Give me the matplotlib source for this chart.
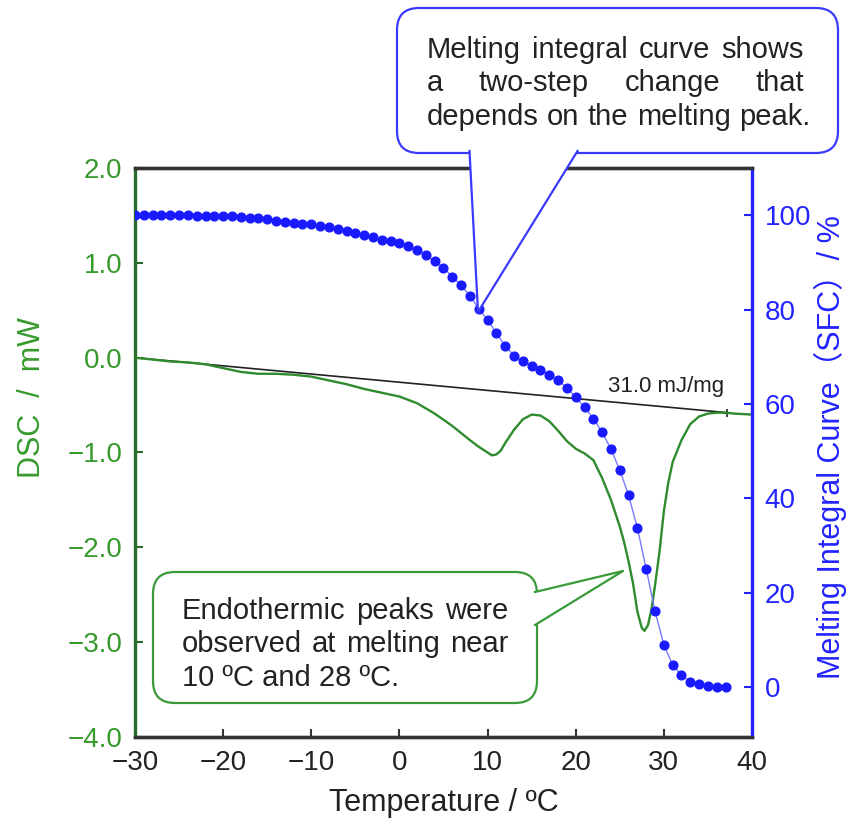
import matplotlib.pyplot as plt
import matplotlib.transforms as mtransforms
from matplotlib.patches import FancyBboxPatch, Polygon
from matplotlib.lines import Line2D

plt.rcParams['font.family'] = ['Liberation Sans', 'Noto Sans CJK JP', 'DejaVu Sans']

# Melting integral (SFC), one point per degree
temp_sfc = list(range(-30, 38))
sfc = [100.0, 100.0, 100.0, 100.0, 100.0, 100.0, 100.0, 99.9, 99.9, 99.8,
       99.8, 99.8, 99.7, 99.5, 99.3, 99.1, 98.8, 98.6, 98.4, 98.2,
       98.1, 97.8, 97.4, 97.0, 96.7, 96.3, 95.9, 95.3, 94.8, 94.5,
       94.0, 93.4, 92.6, 91.5, 90.3, 88.8, 87.0, 85.1, 82.9, 80.2,
       77.8, 75.0, 72.3, 70.2, 69.0, 68.0, 67.2, 66.2, 65.0, 63.4,
       61.4, 59.3, 56.9, 54.0, 50.4, 46.0, 40.6, 33.7, 25.0, 16.1,
       8.9, 4.7, 2.5, 1.1, 0.6, 0.2, 0.1, 0.0]

# DSC curve
temp_dsc = [-30, -28, -26, -24, -22, -20, -18, -16, -14, -12, -10, -8, -6, -4, -2,
            0, 2, 4, 6, 8, 9, 10, 10.5, 11, 11.5, 12, 13, 14, 15, 16, 17, 18, 19,
            20, 21, 22, 23, 24, 25, 25.5, 26, 26.5, 27, 27.5, 27.8, 28.2, 28.6,
            29, 29.5, 30, 30.5, 31, 32, 33, 34, 35, 36, 37, 38, 40]
dsc = [0.0, -0.02, -0.04, -0.05, -0.07, -0.11, -0.15, -0.17, -0.17, -0.18, -0.2,
       -0.24, -0.28, -0.33, -0.37, -0.41, -0.48, -0.59, -0.72, -0.87, -0.94,
       -1.0, -1.03, -1.02, -0.98, -0.9, -0.76, -0.65, -0.6, -0.61, -0.67, -0.77,
       -0.88, -0.96, -1.01, -1.08, -1.27, -1.5, -1.78, -1.95, -2.15, -2.38,
       -2.68, -2.85, -2.88, -2.82, -2.65, -2.4, -2.05, -1.62, -1.32, -1.1,
       -0.87, -0.7, -0.62, -0.59, -0.58, -0.58, -0.59, -0.6]

# integration baseline
base_t = [-30, 37.2]
base_v = [0.0, -0.58]

temp_ticks = [-30, -20, -10, 0, 10, 20, 30, 40]
temp_labels = ['−30', '−20', '−10', '0', '10', '20', '30', '40']
dsc_ticks = [-4, -3, -2, -1, 0, 1, 2]
dsc_labels = ['−4.0', '−3.0', '−2.0', '−1.0', '0.0', '1.0', '2.0']
sfc_ticks = [0, 20, 40, 60, 80, 100]

green = '#369a2c'
dark_green = '#2a6a2a'
blue = '#2323ff'

W, H = 848, 822
fig = plt.figure(figsize=(W / 100, H / 100), dpi=100)
ax = fig.add_axes([135 / W, 1 - 737 / H, (752 - 135) / W, (737 - 168) / H])
ax2 = ax.twinx()

ax.plot(base_t, base_v, color='#222222', lw=1.2, marker='+', ms=6, mew=1.2, zorder=2)
ax.plot(temp_dsc, dsc, color='#2e8b2e', lw=1.7, zorder=3)
ax2.plot(temp_sfc, sfc, color='#7a7aff', lw=1.0, marker='o', ms=6.3,
         mfc='#1a1aff', mec='#1a1aff', zorder=3)

ax.set_xlim(-30, 40)
ax.set_ylim(-4, 2)
ax2.set_ylim(-10.6, 110)

ax.set_xticks(temp_ticks, temp_labels)
ax.set_yticks(dsc_ticks, dsc_labels)
ax2.set_yticks(sfc_ticks, [str(v) for v in sfc_ticks])

ax.tick_params(axis='x', direction='in', length=6, width=1.5, color='#333333',
               labelsize=20, labelcolor='#222222', pad=9)
ax.tick_params(axis='y', direction='in', length=6, width=1.5, color=dark_green,
               labelsize=20, labelcolor=green, pad=9)
ax2.tick_params(axis='y', direction='in', length=6, width=1.5, color=blue,
                labelsize=20, labelcolor=blue, pad=9)

for a in (ax, ax2):
    for s in a.spines.values():
        s.set_linewidth(2.4)
    a.spines['top'].set_color('#333333')
    a.spines['bottom'].set_color('#333333')
ax.spines['left'].set_color(dark_green)
ax.spines['right'].set_visible(False)
ax2.spines['left'].set_visible(False)
ax2.spines['right'].set_color(blue)

ax.set_xlabel('Temperature / ºC', fontsize=22, color='#222222')
ax.xaxis.label.set_va('center')
ax.xaxis.set_label_coords(0.5, -(803 - 737) / 569)
ax.set_ylabel('DSC  /  mW', fontsize=22, color=green)
ax.yaxis.label.set_va('center')
ax.yaxis.set_label_coords((32 - 135) / 617, (737 - 398) / 569)
ax2.set_ylabel('Melting Integral Curve（SFC）/ %', fontsize=22, color=blue, rotation=90)
ax2.yaxis.label.set_va('center')
ax2.yaxis.set_label_coords((830 - 135) / 617, (737 - 447) / 569)

ax.text(23.7, -0.36, '31.0 mJ/mg', fontsize=16, color='#222222', va='baseline')

# pixel coordinates, origin top-left
pix = mtransforms.Affine2D().scale(1 / W, -1 / H).translate(0, 1) + fig.transFigure
renderer = fig.canvas.get_renderer()


def put_line(text, x0, x1, y, justify=True, size=21):
    words = text.split()
    kw = dict(transform=pix, fontsize=size, color='#222222', va='baseline', zorder=10)
    if not justify:
        fig.text(x0, y, text, **kw)
        return
    items = [fig.text(0, y, w, **kw) for w in words]
    widths = [t.get_window_extent(renderer).width for t in items]
    gap = (x1 - x0 - sum(widths)) / (len(words) - 1)
    x = x0
    for t, w in zip(items, widths):
        t.set_x(x)
        x += w + gap


def callout(box, wedge, color):
    x, y, w, h = box
    fig.patches.append(FancyBboxPatch((x, y), w, h, boxstyle='round,pad=0,rounding_size=22',
                                      transform=pix, fc='white', ec=color, lw=1.6, zorder=5))
    a, tip, b = wedge
    cover = Polygon([a, b, tip], closed=True, transform=pix, fc='white', ec='none', zorder=6)
    fig.patches.append(cover)
    fig.lines.append(Line2D([a[0], tip[0], b[0]], [a[1], tip[1], b[1]], transform=pix,
                            color=color, lw=1.6, zorder=7))


callout((397, 8, 441, 145), ((469.5, 151), (478, 312), (577.5, 151)), '#3a3aff')
put_line('Melting integral curve shows', 427, 804, 58)
put_line('a two-step change that', 427, 804, 91)
put_line('depends on the melting peak.', 427, 810, 125)

callout((153, 572, 384, 131), ((535, 592), (623, 571), (535, 625)), '#3a9a3a')
put_line('Endothermic peaks were', 182, 508, 619)
put_line('observed at melting near', 182, 508, 652)
put_line('10 ºC and 28 ºC.', 182, 508, 686, justify=False)

fig.savefig('out.png', dpi=100)
